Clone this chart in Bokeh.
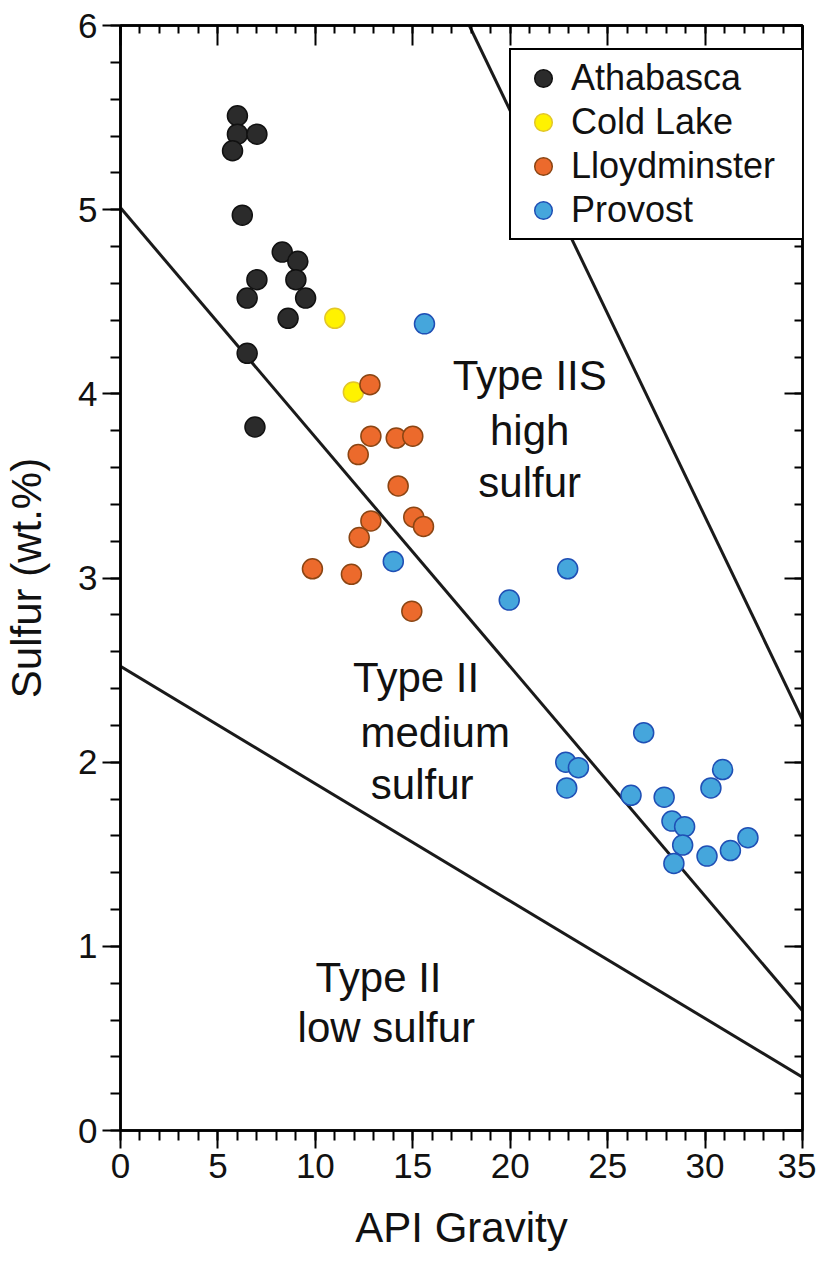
from bokeh.plotting import figure
from bokeh.models import (Range1d, LinearAxis, SingleIntervalTicker, Legend,
                          LegendItem, ColumnDataSource, CustomJSTickFormatter)
from bokeh.core.properties import value
from bokeh.embed import file_html
from bokeh.resources import INLINE

# ---------------- data ----------------
athabasca_api = [6.0, 6.0, 7.0, 5.75, 6.25, 8.3, 9.1, 7.0, 9.0, 6.5, 9.5, 8.6, 6.5, 6.9]
athabasca_s = [5.51, 5.41, 5.41, 5.32, 4.97, 4.77, 4.72, 4.62, 4.62, 4.52, 4.52, 4.41, 4.22, 3.82]

coldlake_api = [11.0, 11.95]
coldlake_s = [4.41, 4.01]

lloyd_api = [12.8, 12.85, 14.15, 15.0, 12.2, 14.25, 12.85, 15.05, 15.55, 12.25, 9.85, 11.85, 14.95]
lloyd_s = [4.05, 3.77, 3.76, 3.77, 3.67, 3.50, 3.31, 3.33, 3.28, 3.22, 3.05, 3.02, 2.82]

provost_api = [15.6, 14.0, 22.95, 19.95, 26.85, 22.85, 23.5, 22.9, 30.9, 30.3,
               26.2, 27.9, 28.3, 28.95, 28.85, 32.2, 31.3, 30.1, 28.4]
provost_s = [4.38, 3.09, 3.05, 2.88, 2.16, 2.00, 1.97, 1.86, 1.96, 1.86,
             1.82, 1.81, 1.68, 1.65, 1.55, 1.59, 1.52, 1.49, 1.45]

# classification boundary lines (API, S endpoints)
low_api = [0, 35]
low_s = [2.52, 0.29]
mid_api = [0, 35]
mid_s = [5.01, 0.65]
high_api = [17.9, 35]
high_s = [6.0, 2.23]

# region labels
ann_x = [21.0, 21.0, 21.0, 15.17, 16.15, 15.48, 13.24, 13.64]
ann_y = [4.10, 3.80, 3.52, 2.46, 2.16, 1.88, 0.83, 0.56]
ann_text = ["Type IIS", "high", "sulfur", "Type II", "medium", "sulfur", "Type II", "low sulfur"]

x_label = "API Gravity"
y_label = "Sulfur (wt.%)"

FONT = "Liberation Sans"

# ---------------- figure ----------------
p = figure(width=816, height=1254, x_range=Range1d(0, 35), y_range=Range1d(0, 6),
           output_backend="svg", toolbar_location=None,
           min_border_left=119, min_border_right=14, min_border_top=25, min_border_bottom=124)
p.grid.visible = False
p.outline_line_color = "black"
p.outline_line_width = 2.5
p.outline_line_alpha = 1.0
p.background_fill_color = "white"
p.border_fill_color = "white"

xt = SingleIntervalTicker(interval=5, num_minor_ticks=5)
yt = SingleIntervalTicker(interval=1, num_minor_ticks=5)

for ax, t in ((p.xaxis[0], xt), (p.yaxis[0], yt)):
    ax.ticker = t
    ax.axis_line_width = 2.5
    ax.axis_line_color = "black"
    ax.major_tick_line_width = 2
    ax.minor_tick_line_width = 2
    ax.major_tick_in = 0
    ax.major_tick_out = 18
    ax.minor_tick_in = 0
    ax.minor_tick_out = 10
    ax.major_label_text_font = FONT
    ax.major_label_text_font_size = "35px"
    ax.major_label_text_color = "#111111"
    ax.major_label_standoff = 5
    ax.axis_label_text_font = FONT
    ax.axis_label_text_font_style = "normal"
    ax.axis_label_text_color = "#111111"

p.xaxis.axis_label = x_label
p.xaxis.axis_label_text_font_size = "42px"
p.xaxis.axis_label_standoff = 23
p.yaxis.axis_label = y_label
p.yaxis.axis_label_text_font_size = "42px"
p.yaxis.axis_label_standoff = 25

blank = CustomJSTickFormatter(code="return ''")
top = LinearAxis(ticker=SingleIntervalTicker(interval=5, num_minor_ticks=5),
                 formatter=blank,
                 major_tick_in=20, major_tick_out=0, minor_tick_in=8, minor_tick_out=0,
                 major_label_standoff=0,
                 axis_line_width=2.5, major_tick_line_width=2, minor_tick_line_width=2)
right = LinearAxis(ticker=SingleIntervalTicker(interval=1, num_minor_ticks=5),
                   formatter=blank,
                   major_tick_in=18, major_tick_out=0, minor_tick_in=8, minor_tick_out=0,
                   major_label_standoff=0,
                   axis_line_width=2.5, major_tick_line_width=2, minor_tick_line_width=2)
p.add_layout(top, "above")
p.add_layout(right, "right")

# boundary lines
p.line(low_api, low_s, line_color="#1a1a1a", line_width=3)
p.line(mid_api, mid_s, line_color="#1a1a1a", line_width=3)
p.line(high_api, high_s, line_color="#1a1a1a", line_width=3)

# region labels
ann_src = ColumnDataSource(dict(x=ann_x, y=ann_y, text=ann_text))
p.text(x="x", y="y", text="text", source=ann_src, text_font=value(FONT),
       text_font_size=value("42px"), text_align="center", text_baseline="middle",
       text_color="#111111")

# points
r1 = p.scatter(athabasca_api, athabasca_s, size=20, fill_color="#2b2b2b",
               line_color="#111111", line_width=1.5)
r2 = p.scatter(coldlake_api, coldlake_s, size=20, fill_color="#fff200",
               line_color="#e2c62a", line_width=1.5)
r3 = p.scatter(lloyd_api, lloyd_s, size=20, fill_color="#ec6a2c",
               line_color="#8b4513", line_width=1.5)
r4 = p.scatter(provost_api, provost_s, size=20, fill_color="#45a6dc",
               line_color="#1f4fb5", line_width=1.5)

legend = Legend(items=[LegendItem(label="Athabasca", renderers=[r1]),
                       LegendItem(label="Cold Lake", renderers=[r2]),
                       LegendItem(label="Lloydminster", renderers=[r3]),
                       LegendItem(label="Provost", renderers=[r4])],
                location=(389, 890), margin=0, padding=6, spacing=0,
                glyph_width=52, glyph_height=44, label_standoff=2,
                label_width=225, label_height=36,
                label_text_font=FONT, label_text_font_size="36px",
                label_text_color="#111111",
                border_line_color="black", border_line_width=2.5, border_line_alpha=1.0,
                background_fill_color="white", background_fill_alpha=1.0)
p.add_layout(legend)

open("out.html", "w").write(file_html(p, INLINE))
